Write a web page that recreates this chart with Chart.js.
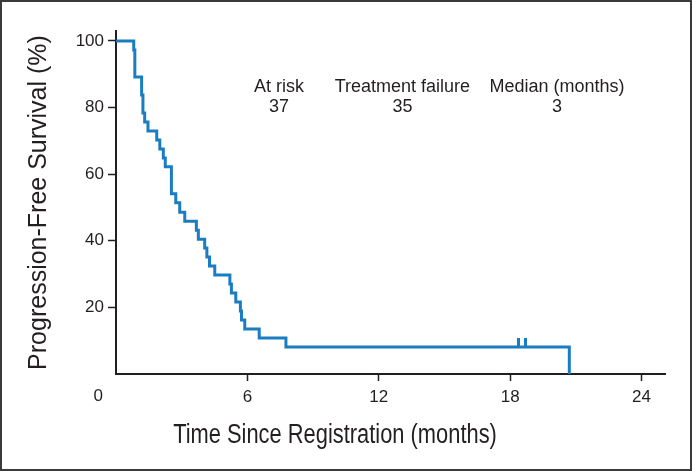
<!DOCTYPE html>
<html lang="en">

<head>
    <meta charset="UTF-8" />
    <title>Progression-Free Survival</title>
    <script src="https://cdn.jsdelivr.net/npm/chart.js"></script>
    <style>
        body {
            margin: 0;
            background: #ffffff;
        }
        canvas {
            display: block;
        }
    </style>
</head>

<body>
    <canvas id="pfsChart" width="692" height="471"></canvas>

    <script>
        // Kaplan-Meier step points: time (months) and survival (%)
        const months = [0, 0.81, 0.86, 1.17, 1.23, 1.31, 1.46, 1.86, 2.0, 2.16,
            2.25, 2.53, 2.73, 2.91, 3.14, 3.67, 3.76, 4.05, 4.15, 4.27,
            4.51, 5.2, 5.27, 5.47, 5.68, 5.73, 5.88, 6.54, 7.76, 20.7];
        const survival = [100, 97.3, 89.2, 83.8, 78.4, 75.7, 73.0, 70.3, 67.6, 64.9,
            62.2, 54.1, 51.4, 48.6, 45.9, 43.2, 40.5, 37.8, 35.1, 32.4,
            29.7, 27.0, 24.3, 21.6, 18.9, 16.2, 13.5, 10.8, 8.1, 0];

        // censored patients
        const censorMonths = [18.37, 18.72];
        const censorSurvival = [8.1, 8.1];

        const xTicks = [6, 12, 18, 24];
        const yTicks = [20, 40, 60, 80, 100];
        const originLabel = '0';

        const riskHeaders = ['At risk', 'Treatment failure', 'Median (months)'];
        const riskValues = ['37', '35', '3'];

        const textColor = '#231f20';
        const curveColor = '#1b7dc1';

        // little vertical tick for censor marks (only the upper half is drawn)
        const censorMark = document.createElement('canvas');
        censorMark.width = 3;
        censorMark.height = 18;
        const cm = censorMark.getContext('2d');
        cm.fillStyle = curveColor;
        cm.fillRect(0, 0, 3, 9);

        const extras = {
            id: 'extras',
            beforeDraw(chart) {
                const ctx = chart.ctx;
                ctx.save();
                ctx.fillStyle = '#ffffff';
                ctx.fillRect(0, 0, chart.width, chart.height);
                ctx.restore();
            },
            afterDraw(chart) {
                const ctx = chart.ctx;
                const area = chart.chartArea;
                const xs = chart.scales.x;
                const ys = chart.scales.y;
                ctx.save();
                ctx.fillStyle = textColor;

                // origin label under the corner
                ctx.font = '17px "Liberation Sans", Arial, sans-serif';
                ctx.textAlign = 'right';
                ctx.textBaseline = 'middle';
                ctx.fillText(originLabel, area.left - 13, area.bottom + 22);

                // at-risk table
                const cols = [7.44, 13.08, 20.14];
                ctx.font = '18px "Liberation Sans", Arial, sans-serif';
                ctx.textAlign = 'center';
                riskHeaders.forEach((h, i) => {
                    ctx.fillText(h, xs.getPixelForValue(cols[i]), ys.getPixelForValue(86.2));
                    ctx.fillText(riskValues[i], xs.getPixelForValue(cols[i]), ys.getPixelForValue(80.2));
                });

                // x axis title, condensed by squeezing horizontally
                ctx.font = '27px "Liberation Sans", Arial, sans-serif';
                ctx.translate(335, 436);
                ctx.scale(0.81, 1);
                ctx.fillText('Time Since Registration (months)', 0, 0);
                ctx.setTransform(1, 0, 0, 1, 0, 0);

                // frame
                ctx.strokeStyle = '#3a3a3a';
                ctx.lineWidth = 2;
                ctx.strokeRect(1, 1, chart.width - 2, chart.height - 2);
                ctx.restore();
            }
        };

        const ctx = document.getElementById('pfsChart').getContext('2d');
        const pfsChart = new Chart(ctx, {
            type: 'scatter',
            data: {
                datasets: [{
                    label: 'PFS',
                    data: months.map((m, i) => ({ x: m, y: survival[i] })),
                    showLine: true,
                    stepped: true,
                    borderColor: curveColor,
                    borderWidth: 3,
                    pointRadius: 0,
                    fill: false
                }, {
                    label: 'Censored',
                    data: censorMonths.map((m, i) => ({ x: m, y: censorSurvival[i] })),
                    showLine: false,
                    pointStyle: censorMark,
                    pointRadius: 9
                }]
            },
            options: {
                responsive: false,
                animation: false,
                devicePixelRatio: 1,
                layout: {
                    padding: { top: 31, right: 27, left: 0, bottom: 0 }
                },
                plugins: {
                    legend: { display: false },
                    tooltip: { enabled: false }
                },
                scales: {
                    x: {
                        type: 'linear',
                        min: 0,
                        max: 25.07,
                        afterBuildTicks: axis => { axis.ticks = xTicks.map(v => ({ value: v })); },
                        afterFit: axis => { axis.height = 97; },
                        border: { display: true, color: textColor, width: 2 },
                        grid: {
                            drawOnChartArea: false,
                            drawTicks: true,
                            tickLength: 7,
                            tickWidth: 1.5,
                            tickColor: textColor
                        },
                        ticks: {
                            color: textColor,
                            padding: 6,
                            maxRotation: 0,
                            font: { family: '"Liberation Sans", Arial, sans-serif', size: 17 }
                        }
                    },
                    y: {
                        min: 0,
                        max: 103,
                        afterBuildTicks: axis => { axis.ticks = yTicks.map(v => ({ value: v })); },
                        afterFit: axis => { axis.width = 116; },
                        border: { display: true, color: textColor, width: 2 },
                        grid: {
                            drawOnChartArea: false,
                            drawTicks: true,
                            tickLength: 8,
                            tickWidth: 1.5,
                            tickColor: textColor
                        },
                        ticks: {
                            color: textColor,
                            padding: 4,
                            font: { family: '"Liberation Sans", Arial, sans-serif', size: 17 }
                        },
                        title: {
                            display: true,
                            text: 'Progression-Free Survival (%)',
                            color: textColor,
                            padding: { top: 24, bottom: 0 },
                            font: { family: '"Liberation Sans", Arial, sans-serif', size: 25 }
                        }
                    }
                }
            },
            plugins: [extras]
        });
    </script>
</body>

</html>
